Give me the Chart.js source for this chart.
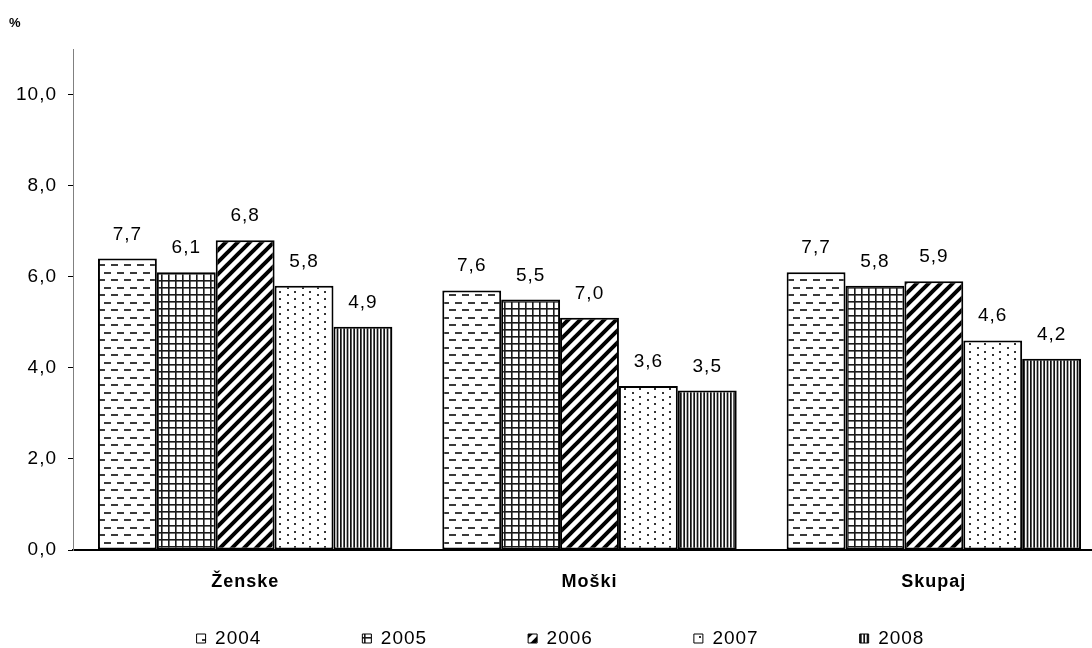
<!DOCTYPE html>
<html>
<head>
<meta charset="utf-8">
<script src="https://cdn.jsdelivr.net/npm/chart.js@4.4.1/dist/chart.umd.min.js"></script>
<style>
  html, body { margin: 0; padding: 0; background: #fff; overflow: hidden; }
  canvas { display: block; }
</style>
</head>
<body>
<canvas id="chart" width="1106" height="648"></canvas>
<script>
// categories and years
const categories = ["Ženske", "Moški", "Skupaj"];
const years = ["2004", "2005", "2006", "2007", "2008"];

// bar heights as drawn (%)
const values2004 = [6.4, 5.7, 6.1];
const values2005 = [6.1, 5.5, 5.8];
const values2006 = [6.8, 5.1, 5.9];
const values2007 = [5.8, 3.6, 4.6];
const values2008 = [4.9, 3.5, 4.2];

// texts printed above the bars
const text2004 = ["7,7", "7,6", "7,7"];
const text2005 = ["6,1", "5,5", "5,8"];
const text2006 = ["6,8", "7,0", "5,9"];
const text2007 = ["5,8", "3,6", "4,6"];
const text2008 = ["4,9", "3,5", "4,2"];

const yTicks = [0, 2, 4, 6, 8, 10];

const FONT = "'Liberation Sans', Arial, sans-serif";
Chart.defaults.font.family = FONT;
Chart.defaults.color = "#000";

const ctx = document.getElementById("chart").getContext("2d");

// small tiles for the hatch fills
const makePattern = (w, h, draw) => {
  const c = document.createElement("canvas");
  c.width = w;
  c.height = h;
  const g = c.getContext("2d");
  g.fillStyle = "#fff";
  g.fillRect(0, 0, w, h);
  draw(g);
  return ctx.createPattern(c, "repeat");
};

const dashes = makePattern(13, 15, (g) => {
  g.fillStyle = "#3a3a3a";
  g.fillRect(0, 2, 7, 2);
  g.fillRect(7, 9, 6, 2);
  g.fillRect(0, 9, 1, 2);
});

const grid = makePattern(7, 7, (g) => {
  g.fillStyle = "#1a1a1a";
  g.fillRect(0, 0, 7, 1.6);
  g.fillRect(0, 0, 1.6, 7);
});

const diagonal = makePattern(12, 12, (g) => {
  g.strokeStyle = "#000";
  g.lineWidth = 4;
  g.beginPath();
  g.moveTo(-2, 14); g.lineTo(14, -2);
  g.moveTo(-8, 8); g.lineTo(8, -8);
  g.moveTo(4, 20); g.lineTo(20, 4);
  g.stroke();
});

const dots = makePattern(15, 15, (g) => {
  g.fillStyle = "#333";
  g.fillRect(2, 2, 2, 2);
  g.fillRect(2, 9, 2, 2);
  g.fillRect(9, 6, 2, 2);
  g.fillRect(9, 13, 2, 2);
});

const vertical = makePattern(10, 10, (g) => {
  g.fillStyle = "#111";
  g.fillRect(0, 0, 1.7, 10);
  g.fillRect(3.33, 0, 1.7, 10);
  g.fillRect(6.67, 0, 1.7, 10);
});

const fills = [dashes, grid, diagonal, dots, vertical];
const values = [values2004, values2005, values2006, values2007, values2008];
const texts = [text2004, text2005, text2006, text2007, text2008];

// numbers above bars + letter spacing for the category labels
const valueLabels = {
  id: "valueLabels",
  beforeDraw(chart) {
    chart.ctx.letterSpacing = "1px";
  },
  afterDatasetsDraw(chart) {
    const c = chart.ctx;
    c.save();
    c.font = "19px " + FONT;
    c.fillStyle = "#000";
    c.textAlign = "center";
    c.textBaseline = "alphabetic";
    chart.data.datasets.forEach((ds, i) => {
      chart.getDatasetMeta(i).data.forEach((bar, j) => {
        c.fillText(ds.valueText[j], bar.x, bar.y - 19);
      });
    });
    c.restore();
    c.letterSpacing = "3px"; // x axis (z: 1) is drawn after this
  },
  afterDraw(chart) {
    chart.ctx.letterSpacing = "0px";
  },
};

// put the legend row where it sits in the original
const legendPlace = {
  id: "legendPlace",
  afterLayout(chart) {
    const lg = chart.legend;
    lg.left = -2.5;
    lg.right = chart.width - 2.5;
    lg.top = 639 - lg.options.labels.padding - 10;
    lg.bottom = chart.height;
  },
};

new Chart(ctx, {
  type: "bar",
  data: {
    labels: categories,
    datasets: years.map((y, i) => ({
      label: y,
      data: values[i],
      valueText: texts[i],
      backgroundColor: fills[i],
      borderColor: "#000",
      borderWidth: 2,
      borderSkipped: false,
      categoryPercentage: 0.855,
      barPercentage: 1.0,
    })),
  },
  options: {
    responsive: false,
    animation: false,
    layout: { padding: { left: 9, right: 0, top: 0, bottom: 38 } },
    plugins: {
      tooltip: { enabled: false },
      title: {
        display: true,
        text: "%",
        align: "start",
        color: "#000",
        font: { size: 13, weight: "bold" },
        padding: { top: 16, bottom: 17.4 },
      },
      legend: {
        position: "bottom",
        maxHeight: 10,
        labels: {
          color: "#000",
          font: { size: 19 },
          boxWidth: 9,
          boxHeight: 9,
          padding: 101,
          generateLabels: (chart) =>
            Chart.defaults.plugins.legend.labels
              .generateLabels(chart)
              .map((l) => ({ ...l, lineWidth: 1 })),
        },
      },
    },
    scales: {
      x: {
        z: 1,
        afterFit: (scale) => {
          scale.height = 50;
        },
        grid: { display: false, drawTicks: false },
        border: { display: true, color: "#000", width: 2 },
        ticks: {
          color: "#000",
          font: { size: 18, weight: "bold" },
          padding: 21,
        },
      },
      y: {
        min: 0,
        max: 11,
        afterBuildTicks: (scale) => {
          scale.ticks = yTicks.map((v) => ({ value: v }));
        },
        afterFit: (scale) => {
          scale.width = 64;
        },
        grid: {
          display: true,
          drawOnChartArea: false,
          drawTicks: true,
          tickLength: 5,
          color: "#000",
          lineWidth: 1,
        },
        border: { display: true, color: "#808080", width: 1 },
        ticks: {
          color: "#000",
          font: { size: 19 },
          padding: 11,
          callback: (v) => v.toFixed(1).replace(".", ","),
        },
      },
    },
  },
  plugins: [valueLabels, legendPlace],
});
</script>
</body>
</html>
